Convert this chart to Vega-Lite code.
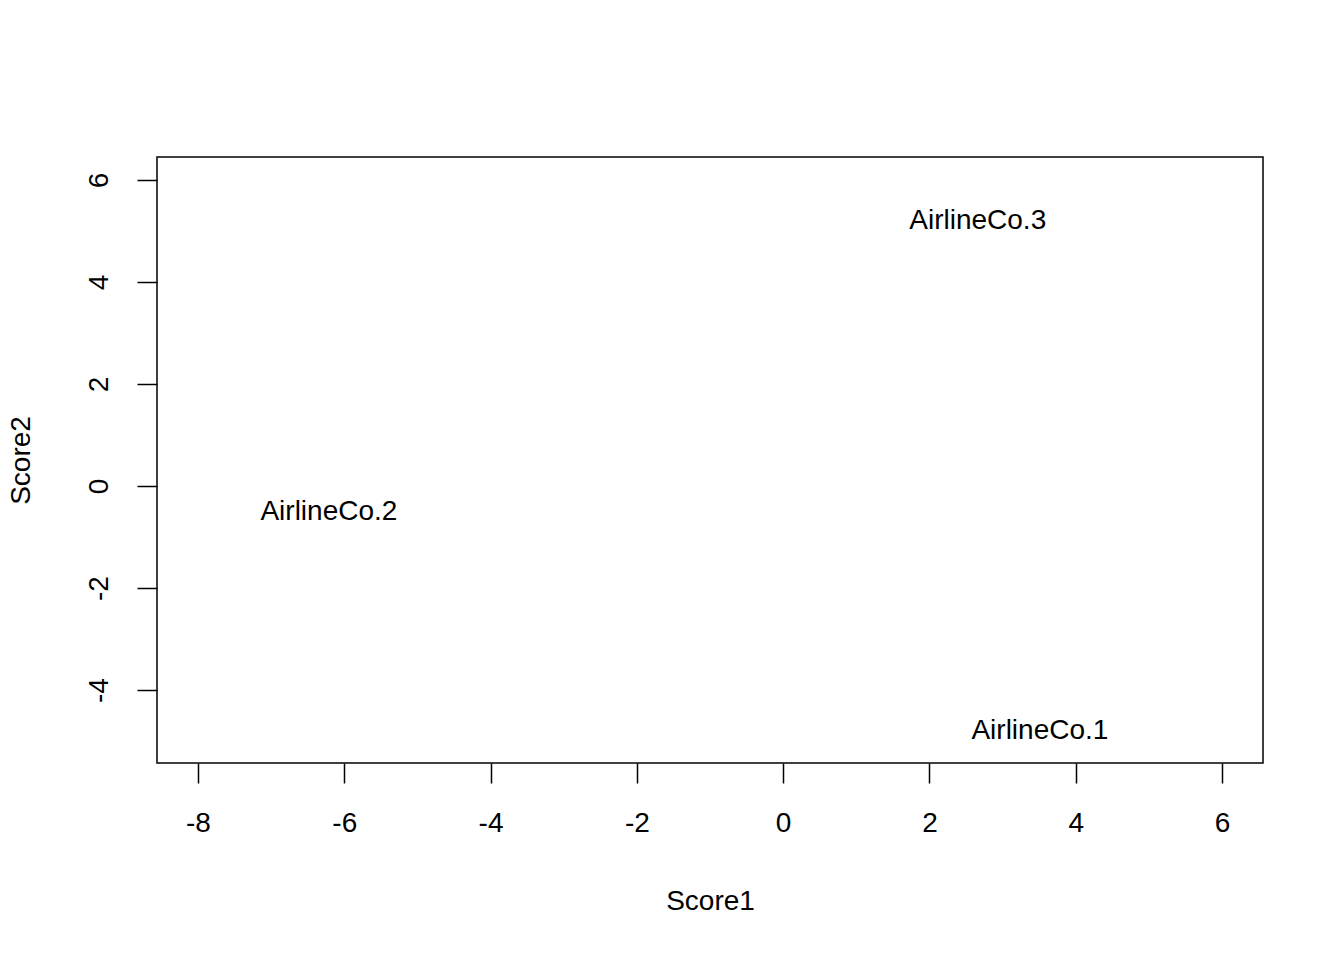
{
  "$schema": "https://vega.github.io/schema/vega-lite/v6.json",
  "width": 1106,
  "height": 606,
  "autosize": "none",
  "padding": {"left": 157, "top": 157, "right": 81, "bottom": 197},
  "background": "white",
  "config": {
    "view": {"stroke": "black", "strokeWidth": 1.5},
    "font": "Liberation Sans",
    "axis": {
      "grid": false, "domain": false, "tickColor": "black", "tickSize": 20, "tickWidth": 1.5,
      "labelFontSize": 28, "labelColor": "black", "labelFont": "Liberation Sans",
      "labelExpr": "replace(datum.label, '\u2212', '-')",
      "titleFontSize": 28, "titleFontWeight": "normal", "titleColor": "black", "titleFont": "Liberation Sans"
    }
  },
  "data": {
    "values": [
      {"name": "AirlineCo.1", "Score1": 3.51, "Score2": -4.8},
      {"name": "AirlineCo.2", "Score1": -6.21, "Score2": -0.51},
      {"name": "AirlineCo.3", "Score1": 2.66, "Score2": 5.2}
    ]
  },
  "mark": {"type": "text", "fontSize": 28, "color": "black", "align": "center", "baseline": "middle"},
  "encoding": {
    "x": {
      "field": "Score1", "type": "quantitative",
      "scale": {"domain": [-8.56, 6.56], "nice": false, "zero": false},
      "axis": {"values": [-8, -6, -4, -2, 0, 2, 4, 6], "labelPadding": 26, "titlePadding": 50}
    },
    "y": {
      "field": "Score2", "type": "quantitative",
      "scale": {"domain": [-5.43, 6.45], "nice": false, "zero": false},
      "axis": {"values": [-4, -2, 0, 2, 4, 6], "labelAngle": -90, "labelAlign": "center", "labelBaseline": "bottom", "labelPadding": 24, "titlePadding": 50}
    },
    "text": {"field": "name"}
  }
}
